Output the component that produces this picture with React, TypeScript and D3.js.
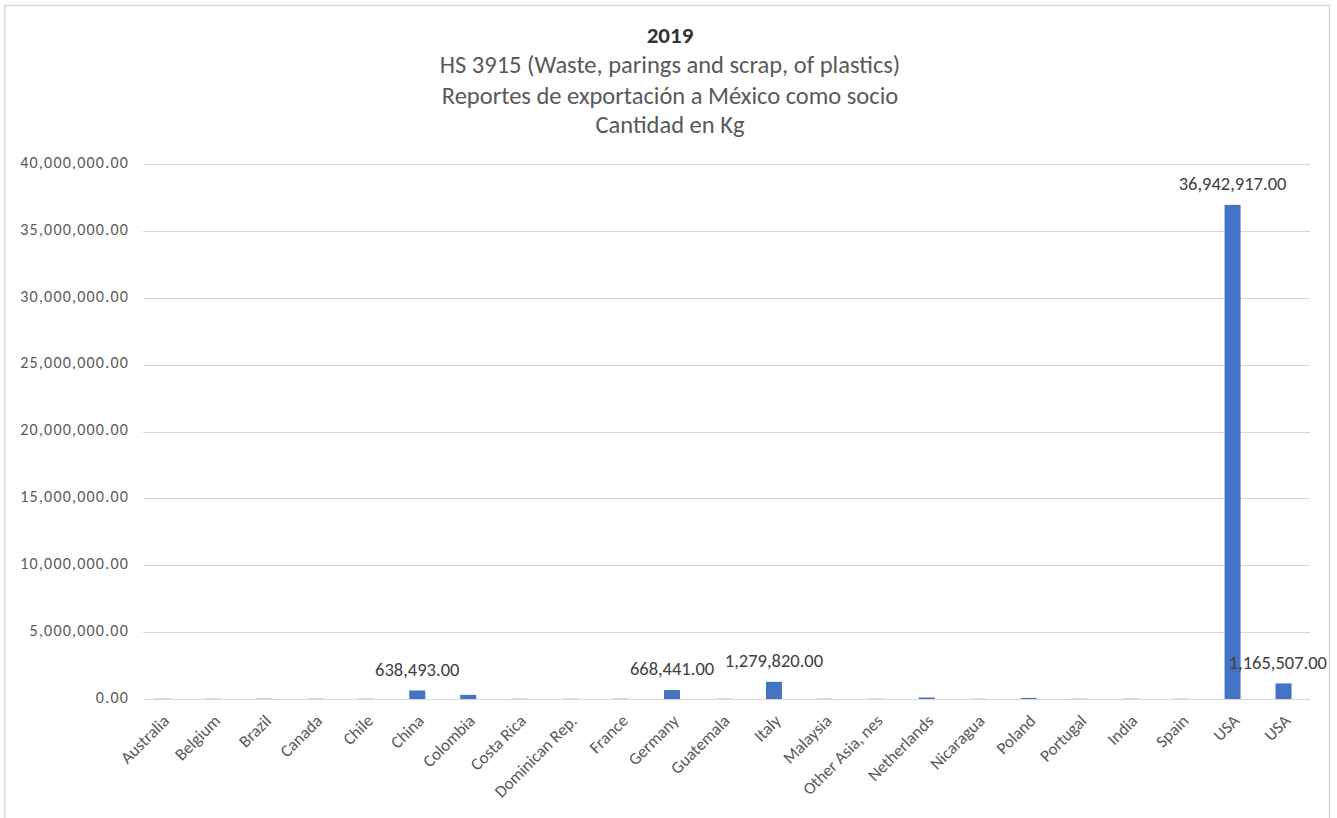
import React, { useEffect, useRef } from "react";
import * as d3 from "d3";

const titleLines = [
  "2019",
  "HS 3915 (Waste, parings and scrap, of plastics)",
  "Reportes de exportación a México como socio",
  "Cantidad en Kg",
];

const countries = [
  "Australia", "Belgium", "Brazil", "Canada", "Chile", "China", "Colombia",
  "Costa Rica", "Dominican Rep.", "France", "Germany", "Guatemala", "Italy",
  "Malaysia", "Other Asia, nes", "Netherlands", "Nicaragua", "Poland",
  "Portugal", "India", "Spain", "USA", "USA",
];

const quantities = [
  20000, 18000, 22000, 20000, 18000, 638493, 310000,
  18000, 15000, 20000, 668441, 18000, 1279820,
  20000, 15000, 110000, 15000, 80000,
  18000, 20000, 15000, 36942917, 1165507,
];

const labeled = [
  false, false, false, false, false, true, false,
  false, false, false, true, false, true,
  false, false, false, false, false,
  false, false, false, true, true,
];

const yTicks = [0, 5000000, 10000000, 15000000, 20000000, 25000000, 30000000, 35000000, 40000000];

const W = 1337;
const H = 818;
const FONT = "Carlito, 'Noto Sans', sans-serif";

export default function App() {
  const ref = useRef<SVGSVGElement | null>(null);

  useEffect(() => {
    const svg = d3.select(ref.current);
    svg.selectAll("*").remove();

    const x = d3.scaleBand<number>()
      .domain(d3.range(countries.length))
      .range([138, 1310])
      .paddingInner(0)
      .paddingOuter(0);
    const y = d3.scaleLinear().domain([0, 40000000]).range([699, 164]);
    const fmt = d3.format(",.2f");

    // chart border
    svg.append("rect")
      .attr("x", 4.5).attr("y", 5.5)
      .attr("width", 1325).attr("height", 830)
      .attr("fill", "#fff")
      .attr("stroke", "#d9d9d9").attr("stroke-width", 1.5);

    // titles
    const tY = [37, 67, 98, 127];
    titleLines.forEach((t, i) => {
      svg.append("text")
        .attr("x", 670).attr("y", tY[i])
        .attr("text-anchor", "middle")
        .attr("dominant-baseline", "middle")
        .attr("font-family", FONT)
        .attr("font-size", i === 0 ? 23 : 24.5)
        .attr("font-weight", i === 0 ? "bold" : "normal")
        .attr("fill", i === 0 ? "#333" : "#595959")
        .text(t);
    });

    // gridlines
    svg.append("g").selectAll("line").data(yTicks).join("line")
      .attr("x1", 143).attr("x2", 1310)
      .attr("y1", (d) => Math.round(y(d)) + 0.5)
      .attr("y2", (d) => Math.round(y(d)) + 0.5)
      .attr("stroke", "#d9d9d9").attr("stroke-width", 1);

    // y labels
    svg.append("g").selectAll("text").data(yTicks).join("text")
      .attr("x", 129).attr("y", (d) => y(d))
      .attr("text-anchor", "end")
      .attr("dominant-baseline", "middle")
      .attr("font-family", FONT).attr("font-size", 16)
      .attr("letter-spacing", 1.2)
      .attr("fill", "#595959")
      .text((d) => fmt(d));

    // bars
    const bw = 16;
    svg.append("g").selectAll("rect").data(quantities).join("rect")
      .attr("x", (_d, i) => (x(i) as number) + x.bandwidth() / 2 - bw / 2 - 1)
      .attr("width", bw)
      .attr("y", (d) => y(d))
      .attr("height", (d) => y(0) - y(d))
      .attr("fill", "#4472C4");

    // x labels
    svg.append("g").selectAll("text").data(countries).join("text")
      .attr("transform", (_d, i) => {
        const cx = (x(i) as number) + x.bandwidth() / 2 + 4;
        return `translate(${cx},${719}) rotate(-45)`;
      })
      .attr("text-anchor", "end")
      .attr("dominant-baseline", "middle")
      .attr("font-family", FONT).attr("font-size", 17)
      .attr("fill", "#595959")
      .text((d) => d);

    // data labels
    const lg = svg.append("g");
    quantities.forEach((v, i) => {
      if (!labeled[i]) return;
      const cx = (x(i) as number) + x.bandwidth() / 2 - 1;
      const t = lg.append("text")
        .attr("x", cx).attr("y", y(v) - 19)
        .attr("text-anchor", "middle")
        .attr("dominant-baseline", "middle")
        .attr("font-family", FONT).attr("font-size", 18.5)
        .attr("fill", "#404040")
        .text(fmt(v));
      const node = t.node() as SVGTextElement;
      const w = node.getComputedTextLength();
      if (cx + w / 2 > 1327) {
        t.attr("x", 1327).attr("text-anchor", "end");
      }
    });
  }, []);

  return (
    <svg
      ref={ref}
      width={W}
      height={H}
      style={{ position: "absolute", left: 0, top: 0, display: "block", background: "#fff" }}
    />
  );
}
